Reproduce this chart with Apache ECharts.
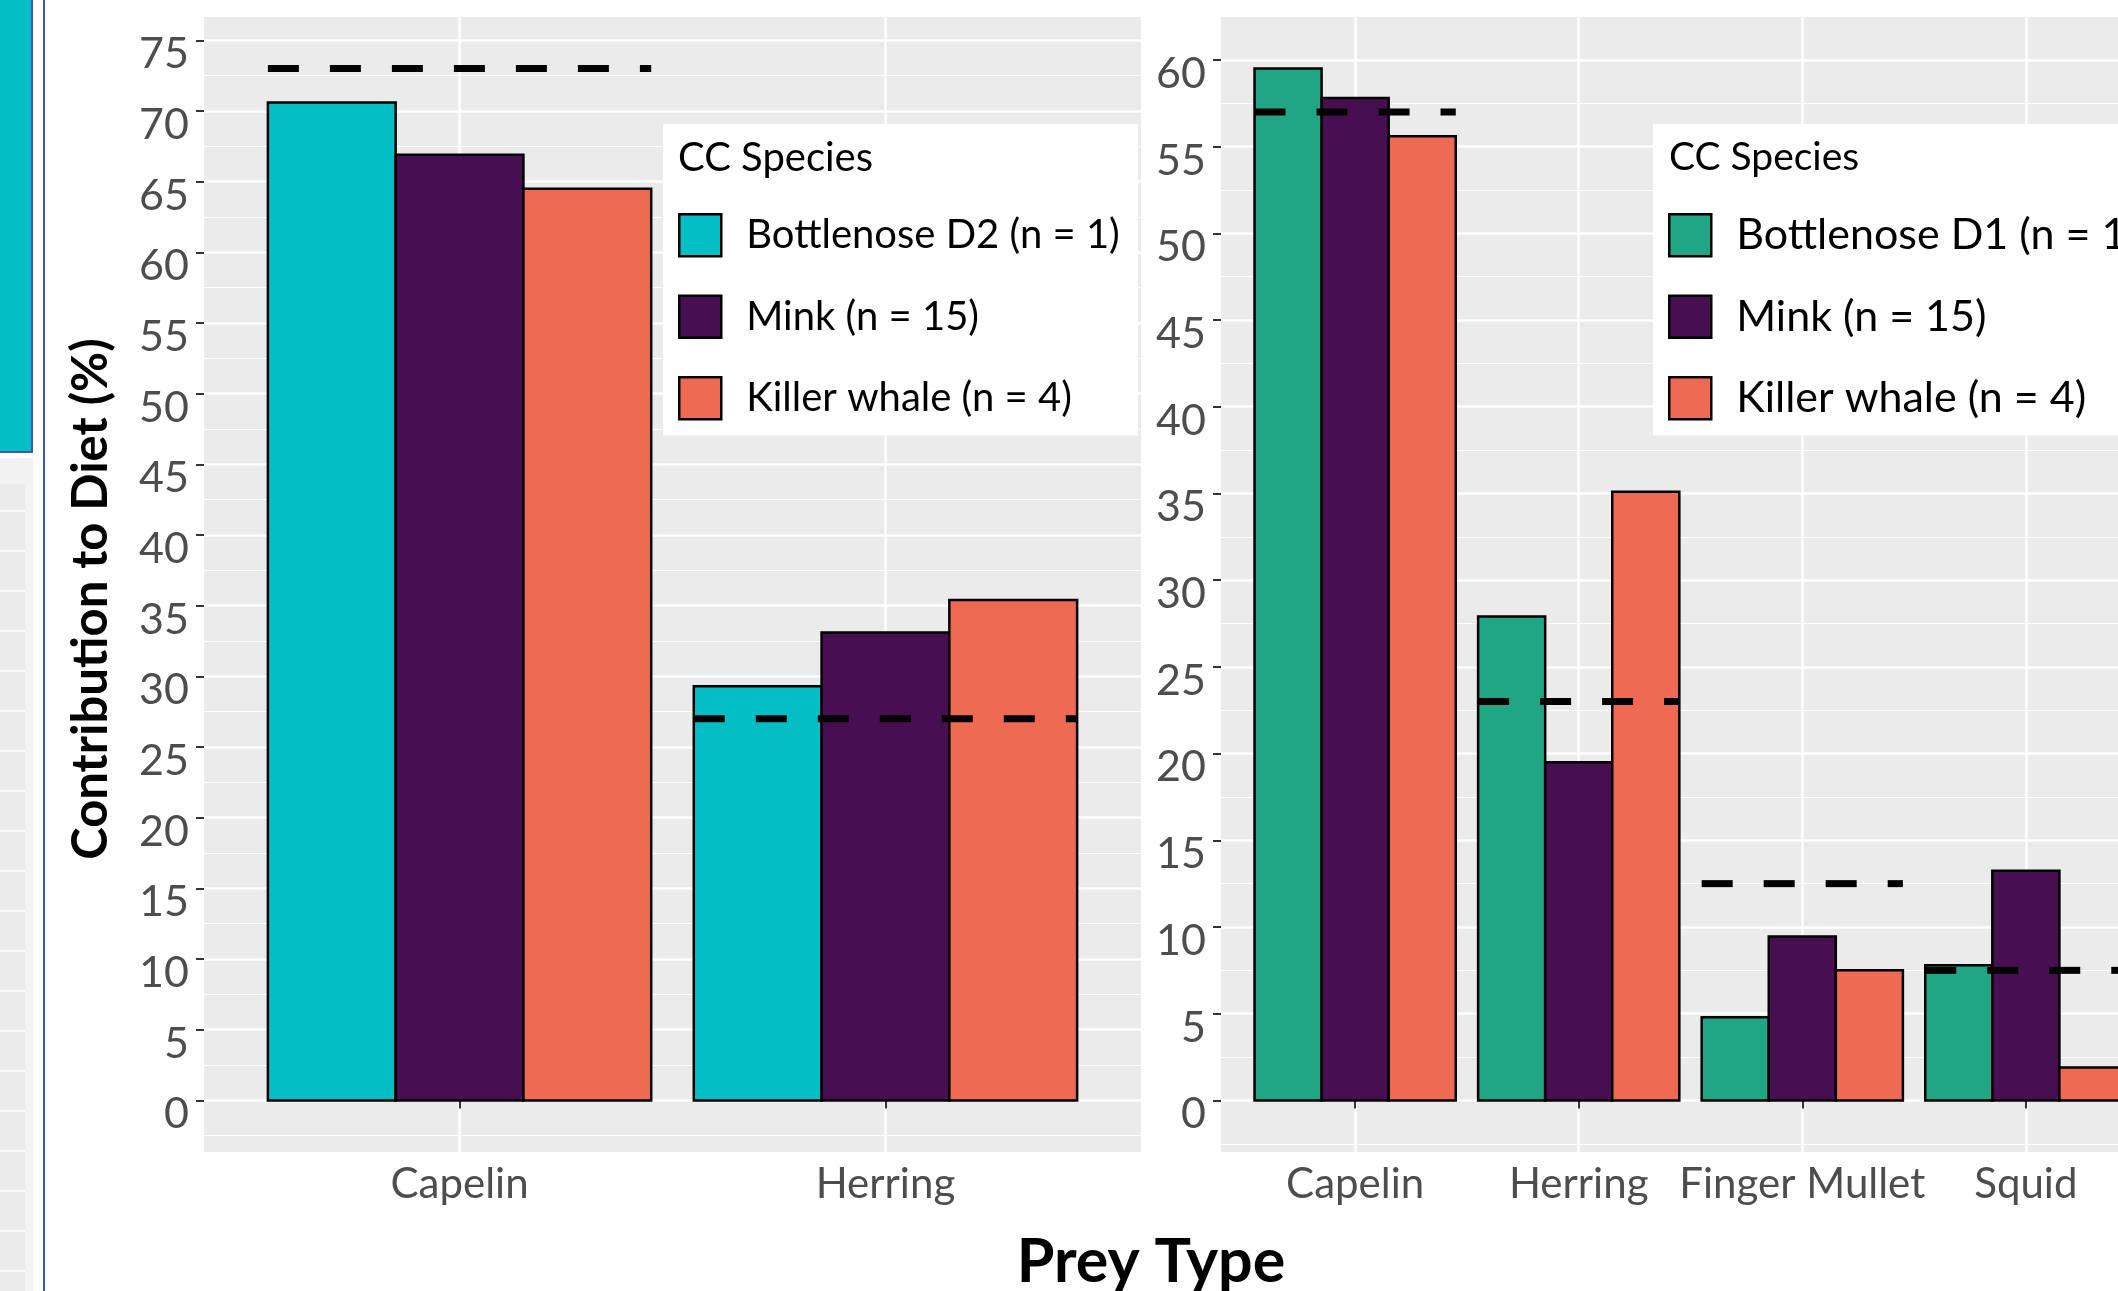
<!DOCTYPE html>
<html>
<head>
<meta charset="utf-8">
<script src="https://cdn.jsdelivr.net/npm/echarts@6/dist/echarts.min.js"></script>
<style>
html,body{margin:0;padding:0;background:#fff;}
#chart{width:2118px;height:1291px;}
</style>
</head>
<body>
<div id="chart"></div>
<script>
// ---- Data ----
const leftCategories = ['Capelin', 'Herring'];
const leftSpecies = ['Bottlenose D2 (n = 1)', 'Mink (n = 15)', 'Killer whale (n = 4)'];
const leftBottlenoseD2 = [70.6, 29.3];
const leftMink = [66.9, 33.1];
const leftKillerWhale = [64.5, 35.4];
const leftReference = [73.0, 27.0];

const rightCategories = ['Capelin', 'Herring', 'Finger Mullet', 'Squid'];
const rightSpecies = ['Bottlenose D1 (n = 1)', 'Mink (n = 15)', 'Killer whale (n = 4)'];
const rightBottlenoseD1 = [59.5, 27.9, 4.8, 7.8];
const rightMink = [57.8, 19.5, 9.45, 13.25];
const rightKillerWhale = [55.6, 35.1, 7.5, 1.9];
const rightReference = [57.0, 23.0, 12.5, 7.5];

const leftTicks = [0, 5, 10, 15, 20, 25, 30, 35, 40, 45, 50, 55, 60, 65, 70, 75];
const rightTicks = [0, 5, 10, 15, 20, 25, 30, 35, 40, 45, 50, 55, 60];

const legendTitle = 'CC Species';
const xTitle = 'Prey Type';
const yTitle = 'Contribution to Diet (%)';

// ---- Styling ----
const colD2 = '#03BEC4';
const colD1 = '#21A685';
const colMink = '#470E51';
const colKW = '#EE6A52';
const FONT = 'Lato, "Open Sans", sans-serif';

function minorsOf(ticks) {
  const step = ticks[1] - ticks[0];
  const out = [ticks[0] - step / 2];
  for (let i = 0; i < ticks.length - 1; i++) out.push((ticks[i] + ticks[i + 1]) / 2);
  return out;
}
function expandRange(arrays) {
  let mx = 0;
  arrays.forEach(a => a.forEach(v => { if (v > mx) mx = v; }));
  return [-0.05 * mx, mx * 1.05];
}
const leftRange = expandRange([leftBottlenoseD2, leftMink, leftKillerWhale, leftReference]);
const rightRange = expandRange([rightBottlenoseD1, rightMink, rightKillerWhale, rightReference]);

const GROUP = 0.9;
function barSeries(name, values, k, color, gi) {
  return {
    type: 'custom', name: name, xAxisIndex: gi, yAxisIndex: gi * 2, z: 3,
    itemStyle: { color: color, borderColor: '#000', borderWidth: 2.5 },
    data: values.map((v, i) => [i + 1, v]),
    encode: { x: 0, y: 1 },
    renderItem: function (params, api) {
      const xi = api.value(0), v = api.value(1);
      const w = GROUP / 3;
      const p1 = api.coord([xi - GROUP / 2 + k * w, v]);
      const p0 = api.coord([xi - GROUP / 2 + (k + 1) * w, 0]);
      return {
        type: 'rect',
        shape: { x: p1[0], y: p1[1], width: p0[0] - p1[0], height: p0[1] - p1[1] },
        style: { fill: color, stroke: '#000', lineWidth: 2.5 }
      };
    }
  };
}
function refSeries(name, values, gi) {
  return {
    type: 'custom', name: name, xAxisIndex: gi, yAxisIndex: gi * 2, z: 5,
    data: values.map((v, i) => [i + 1, v]),
    encode: { x: 0, y: 1 },
    renderItem: function (params, api) {
      const xi = api.value(0), v = api.value(1);
      const a = api.coord([xi - GROUP / 2, v]);
      const b = api.coord([xi + GROUP / 2, v]);
      return {
        type: 'line',
        shape: { x1: a[0], y1: a[1], x2: b[0], y2: b[1] },
        style: { stroke: '#000', lineWidth: 7, lineDash: [31, 31], lineCap: 'butt' }
      };
    }
  };
}
function xAxisFor(gi, cats, maxVal) {
  const vals = cats.map((c, i) => i + 1);
  return {
    type: 'value', gridIndex: gi, min: 0.4, max: maxVal,
    axisLine: { show: false },
    axisTick: { show: true, customValues: vals, length: 8, lineStyle: { color: '#333', width: 2 } },
    axisLabel: {
      customValues: vals, formatter: v => cats[Math.round(v) - 1],
      fontFamily: FONT, fontSize: 42, color: '#4D4D4D', margin: 11
    },
    splitLine: { show: true, lineStyle: { color: '#fff', width: 2.5 } }
  };
}
function yAxesFor(gi, range, ticks) {
  const major = {
    type: 'value', gridIndex: gi, min: range[0], max: range[1], position: 'left',
    axisLine: { show: false },
    axisTick: { show: true, customValues: ticks, length: 8, lineStyle: { color: '#333', width: 2 } },
    axisLabel: {
      customValues: ticks, fontFamily: FONT, fontSize: 43, color: '#4D4D4D',
      margin: 15, verticalAlign: 'top', lineHeight: 28
    },
    splitLine: { show: true, lineStyle: { color: '#fff', width: 2.5 } }
  };
  const minor = {
    type: 'value', gridIndex: gi, min: range[0], max: range[1], position: 'left',
    axisLine: { show: false },
    axisTick: { show: false, customValues: minorsOf(ticks) },
    axisLabel: { show: false },
    splitLine: { show: true, lineStyle: { color: '#fff', width: 1.2 } }
  };
  return [major, minor];
}
function legendFor(left, names, colors, fs) {
  return {
    orient: 'vertical', left: left, top: 124,
    padding: [89, 18, 15, 15],
    backgroundColor: '#fff',
    itemWidth: 42, itemHeight: 42, itemGap: 37,
    selectedMode: false,
    textStyle: { fontFamily: FONT, fontSize: fs, color: '#000', lineHeight: 42, padding: [0, 0, 0, 20] },
    data: names.map((n, i) => ({ name: n, icon: 'rect', itemStyle: { color: colors[i], borderColor: '#000', borderWidth: 2.5 } }))
  };
}

// decorative fragment of neighbouring figure at the far left
const deco = [];
deco.push({ type: 'rect', shape: { x: 0, y: 458, width: 33, height: 840 }, style: { fill: '#F2F2F2' }, z: 0 });
deco.push({ type: 'rect', shape: { x: 0, y: 484, width: 25, height: 810 }, style: { fill: '#EBEBEB' }, z: 0 });
for (let y = 511; y < 1291; y += 40) {
  deco.push({ type: 'line', shape: { x1: 0, y1: y, x2: 25, y2: y }, style: { stroke: '#fff', lineWidth: 1.5 }, z: 1 });
}
deco.push({ type: 'rect', shape: { x: -5, y: -5, width: 37, height: 457 }, style: { fill: colD2, stroke: '#3B5BA5', lineWidth: 2 }, z: 1 });
deco.push({ type: 'rect', shape: { x: 43, y: 0, width: 2, height: 1291 }, style: { fill: '#3B5BA5' }, z: 1 });

// right panel is cut by the page edge: full panel 939px wide (4.2 category units), 897px visible
const rightVisibleMax = 0.4 + (rightCategories.length + 0.2) * 897 / 939;

const option = {
  backgroundColor: '#fff',
  animation: false,
  grid: [
    { left: 204, top: 17, width: 937, height: 1135, show: true, backgroundColor: '#EBEBEB', borderWidth: 0 },
    { left: 1221, top: 17, width: 897, height: 1135, show: true, backgroundColor: '#EBEBEB', borderWidth: 0 }
  ],
  xAxis: [xAxisFor(0, leftCategories, leftCategories.length + 0.6), xAxisFor(1, rightCategories, rightVisibleMax)],
  yAxis: [].concat(yAxesFor(0, leftRange, leftTicks), yAxesFor(1, rightRange, rightTicks)),
  legend: [
    legendFor(663, leftSpecies, [colD2, colMink, colKW], 40),
    legendFor(1653, rightSpecies, [colD1, colMink, colKW], 43)
  ],
  graphic: deco.concat([
    { type: 'text', left: 678, top: 138, z: 100, style: { text: legendTitle, font: '40px ' + FONT, fill: '#000' } },
    { type: 'text', left: 1669, top: 138, z: 100, style: { text: legendTitle, font: '39px ' + FONT, fill: '#000' } },
    { type: 'text', x: 1151, y: 1262, z: 100, style: { text: xTitle, font: 'bold 61px ' + FONT, fill: '#000', align: 'center', verticalAlign: 'middle' } },
    { type: 'text', x: 91, y: 599, rotation: Math.PI / 2, z: 100, style: { text: yTitle, font: 'bold 49px ' + FONT, fill: '#000', align: 'center', verticalAlign: 'middle' } }
  ]),
  series: [
    barSeries(leftSpecies[0], leftBottlenoseD2, 0, colD2, 0),
    barSeries(leftSpecies[1], leftMink, 1, colMink, 0),
    barSeries(leftSpecies[2], leftKillerWhale, 2, colKW, 0),
    refSeries('Reference (left)', leftReference, 0),
    barSeries(rightSpecies[0], rightBottlenoseD1, 0, colD1, 1),
    barSeries(rightSpecies[1], rightMink, 1, colMink, 1),
    barSeries(rightSpecies[2], rightKillerWhale, 2, colKW, 1),
    refSeries('Reference (right)', rightReference, 1)
  ]
};

const chart = echarts.init(document.getElementById('chart'), null, { renderer: 'canvas' });
chart.setOption(option);
</script>
</body>
</html>
